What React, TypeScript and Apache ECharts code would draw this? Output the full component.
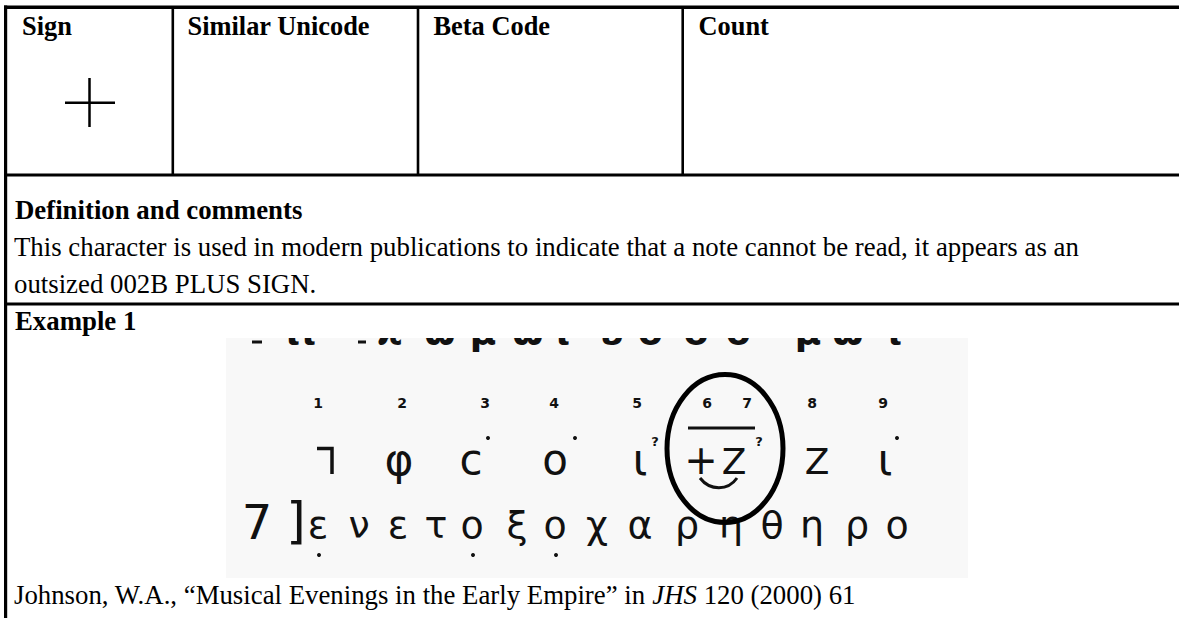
import React, { useEffect, useRef } from 'react';
import * as echarts from 'echarts';

// ---------- content ----------
const HEADERS = ['Sign', 'Similar Unicode', 'Beta Code', 'Count'];
const SECTION_TITLES = ['Definition and comments', 'Example 1'];
const DEFINITION_LINES = [
  'This character is used in modern publications to indicate that a note cannot be read, it appears as an',
  'outsized 002B PLUS SIGN.',
];
const CITATION_PRE = 'Johnson, W.A., \u201cMusical Evenings in the Early Empire\u201d in ';
const CITATION_JOURNAL = 'JHS';
const CITATION_POST = ' 120 (2000) 61';

// example image content
const NOTE_NUMBERS = ['1', '2', '3', '4', '5', '6', '7', '8', '9'];
const LINE_NUMBER = '7';
const LINE_BRACKET = ']';
const TRANSCRIPTION = ['ε', 'ν', 'ε', 'τ', 'ο', 'ξ', 'ο', 'χ', 'α', 'ρ', 'η', 'θ', 'η', 'ρ', 'ο'];
const UNDERDOTTED = [0, 4, 6];
const TOP_FRAGMENTS = ['ι', 'ι', 'ϰ', 'ω', 'μ', 'ω', 'ι', 'υ', 'σ', 'ο', 'σ', 'μ', 'ω', 'ι'];
const NOTE_GLYPHS = ['φ', 'ϲ', 'ο', 'ι', '+', 'Z', 'Z', 'ι'];

// ---------- layout ----------
const W = 1179;
const H = 618;
const SERIF = '"Liberation Serif", "Times New Roman", serif';
const SANS = '"DejaVu Sans", sans-serif';
const FS_HEAD = 26.4;
const FS_BODY = 26.8;
const HEADER_X = [22, 187.5, 433.5, 698.5];
const COL_DIV_X = [172.8, 418, 682.7];
const TEXT_X = 14;
const INK = '#111';

const IMG = { x: 226, y: 338, w: 742, h: 240 };
const NUM_X = [318, 402, 485, 554, 637, 707, 747, 812, 883];
const TRANS_X = [318, 359, 398, 436, 472, 517, 555, 597, 640, 687, 731, 772, 812, 857, 897];
const TOP_FRAG_X = [293, 309, 390, 440, 483, 528, 563, 612, 652, 696, 740, 808, 848, 895];
const NOTE_GLYPH_X = [399, 471, 555, 640, 701, 734, 817, 885];
const NOTE_GLYPH_SIZE = [44, 42, 42, 44, 40, 36, 36, 44];

function measure(text: string, font: string): number {
  const c = document.createElement('canvas').getContext('2d');
  if (!c) return text.length * 10;
  c.font = font;
  return c.measureText(text).width;
}

function txt(text: string, x: number, baseline: number, family: string, size: number, opts: any = {}) {
  const weight = opts.weight || 'normal';
  const style = opts.style || 'normal';
  const align = opts.align || 'left';
  return {
    type: 'text',
    x,
    y: baseline - 0.34 * size,
    silent: true,
    z: opts.z || 10,
    style: {
      text,
      font: `${style} ${weight} ${size}px ${family}`,
      fill: opts.fill || '#000',
      textAlign: align,
      align,
      textVerticalAlign: 'middle',
      verticalAlign: 'middle',
    },
  };
}

function rect(x: number, y: number, w: number, h: number, fill: string, z = 5) {
  return { type: 'rect', silent: true, z, shape: { x, y, width: w, height: h }, style: { fill } };
}

function line(x1: number, y1: number, x2: number, y2: number, lw: number, z = 12, stroke = INK) {
  return {
    type: 'line', silent: true, z,
    shape: { x1, y1, x2, y2 },
    style: { stroke, lineWidth: lw, lineCap: 'butt' },
  };
}

function poly(points: number[][], lw: number) {
  return {
    type: 'polyline', silent: true, z: 12,
    shape: { points },
    style: { stroke: INK, lineWidth: lw, fill: null, lineJoin: 'miter' },
  };
}

function buildGraphics() {
  const g: any[] = [];
  g.push(rect(0, 0, W, H, '#ffffff', 0));

  // table rules
  g.push(rect(4, 5.5, W, 3.5, '#000', 20));
  g.push(rect(4, 5.5, 3.2, H, '#000', 20));
  COL_DIV_X.forEach((x) => g.push(rect(x - 1.3, 8, 2.6, 167, '#000', 20)));
  g.push(rect(4, 173.5, W, 3, '#000', 20));
  g.push(rect(4, 302.5, W, 3, '#000', 20));

  // headers
  HEADERS.forEach((h, i) => g.push(txt(h, HEADER_X[i], 35, SERIF, FS_HEAD, { weight: 'bold' })));

  // sign: outsized plus
  g.push(line(65, 102.7, 115, 102.7, 2.5, 12, '#000'));
  g.push(line(89.5, 78, 89.5, 127, 2.5, 12, '#000'));

  // definition
  g.push(txt(SECTION_TITLES[0], TEXT_X + 1, 219, SERIF, FS_BODY, { weight: 'bold' }));
  DEFINITION_LINES.forEach((l, i) => g.push(txt(l, TEXT_X, 256 + i * 37.5, SERIF, FS_BODY)));
  g.push(txt(SECTION_TITLES[1], TEXT_X + 1, 330, SERIF, FS_BODY, { weight: 'bold' }));

  // citation
  const fontN = `normal normal ${FS_BODY}px ${SERIF}`;
  const fontI = `italic normal ${FS_BODY}px ${SERIF}`;
  const w1 = measure(CITATION_PRE, fontN);
  const w2 = measure(CITATION_JOURNAL, fontI);
  const CB = 604;
  g.push(txt(CITATION_PRE, TEXT_X, CB, SERIF, FS_BODY));
  g.push(txt(CITATION_JOURNAL, TEXT_X + w1, CB, SERIF, FS_BODY, { style: 'italic' }));
  g.push(txt(CITATION_POST, TEXT_X + w1 + w2, CB, SERIF, FS_BODY));

  // ----- example image -----
  g.push(rect(IMG.x, IMG.y, IMG.w, IMG.h, '#f8f8f8', 1));
  // cut-off line above (only bottoms visible)
  TOP_FRAGMENTS.forEach((c, i) =>
    g.push(txt(c, TOP_FRAG_X[i], 345, SANS, 36, { weight: 'bold', align: 'center', fill: INK, z: 3 }))
  );
  g.push(rect(IMG.x - 30, 306, IMG.w + 30, IMG.y - 306, '#ffffff', 4));
  g.push(line(252, 342, 262, 342, 3, 6));
  g.push(line(358, 342, 366, 342, 3, 6));

  // note numbers
  NOTE_NUMBERS.forEach((n, i) =>
    g.push(txt(n, NUM_X[i], 408, SANS, 14, { weight: 'bold', align: 'center', fill: INK }))
  );

  // notes row
  g.push(poly([[317, 448.5], [332, 448.5], [332, 474]], 3.5));
  NOTE_GLYPHS.forEach((c, i) =>
    g.push(txt(c, NOTE_GLYPH_X[i], 474, SANS, NOTE_GLYPH_SIZE[i], { align: 'center', fill: INK }))
  );
  // dots and question marks
  [[488, 438], [575, 438], [897, 438]].forEach(([x, y]) =>
    g.push({ type: 'circle', silent: true, z: 12, shape: { cx: x, cy: y, r: 2 }, style: { fill: INK } })
  );
  g.push(txt('?', 655, 446, SANS, 13, { weight: 'bold', align: 'center', fill: INK }));
  g.push(txt('?', 759, 446, SANS, 13, { weight: 'bold', align: 'center', fill: INK }));
  // overline, ligature arc, circle
  g.push(line(688, 428, 755, 428, 3));
  g.push({
    type: 'bezierCurve', silent: true, z: 12,
    shape: { x1: 700, y1: 478, x2: 737, y2: 478, cpx1: 710, cpy1: 491, cpx2: 728, cpy2: 491 },
    style: { stroke: INK, lineWidth: 3, fill: null },
  });
  g.push({
    type: 'ellipse', silent: true, z: 13,
    shape: { cx: 725, cy: 448.5, rx: 58, ry: 74 },
    style: { stroke: '#000', lineWidth: 5, fill: null },
  });

  // transcription line
  g.push(txt(LINE_NUMBER, 257, 538, SANS, 48, { align: 'center', fill: INK }));
  g.push(txt(LINE_BRACKET, 296, 538, SANS, 50, { align: 'center', fill: INK }));
  TRANSCRIPTION.forEach((c, i) =>
    g.push(txt(c, TRANS_X[i], 538, SANS, 38, { align: 'center', fill: INK }))
  );
  UNDERDOTTED.forEach((i) =>
    g.push({
      type: 'circle', silent: true, z: 12,
      shape: { cx: TRANS_X[i] + 1, cy: 555, r: 2 }, style: { fill: INK },
    })
  );
  return g;
}

export default function App() {
  const ref = useRef<HTMLDivElement>(null);
  useEffect(() => {
    document.body.style.margin = '0';
    if (!ref.current) return;
    const chart = echarts.init(ref.current, undefined, { renderer: 'svg' });
    chart.setOption({
      animation: false,
      backgroundColor: '#ffffff',
      graphic: { elements: buildGraphics() },
    });
    return () => chart.dispose();
  }, []);
  return <div ref={ref} style={{ width: W, height: H }} />;
}
